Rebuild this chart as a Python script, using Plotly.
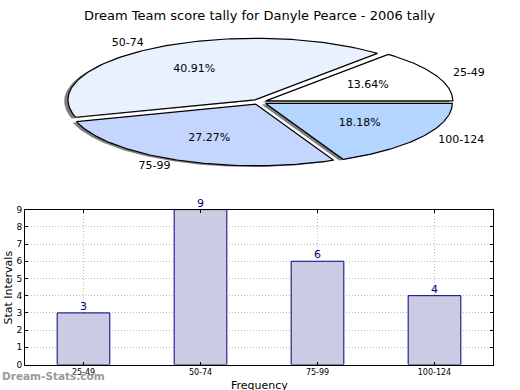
import numpy as np
import plotly.graph_objects as go

# ---- data ----
categories = ["25-49", "50-74", "75-99", "100-124"]
counts = [3, 9, 6, 4]
pie_colors = ["#ffffff", "#e9f0fe", "#c4d6fd", "#b3d5ff"]
title_text = "Dream Team score tally for Danyle Pearce - 2006 tally"
y_ticks = list(range(0, 10))

# ---- layout constants (px) ----
W, H = 520, 390
cx, cy, rx, ry = 259.0, 99.5, 187.0, 63.2   # pie centre / radii
pie_bottom = 195.0
explode = 0.04
bar_l, bar_r, bar_t, bar_b = 25, 493, 210, 369
FONT = "DejaVu Sans"

fig = go.Figure()

total = float(sum(counts))
fracs = [c / total for c in counts]

# compute wedges
wedges = []
t = 0.0
for cat, f, col in zip(categories, fracs, pie_colors):
    t1, t2 = t, t + 360.0 * f
    t = t2
    mid = np.deg2rad((t1 + t2) / 2)
    dx, dy = explode * np.cos(mid), explode * np.sin(mid)
    ang = np.deg2rad(np.linspace(t1, t2, 120))
    xs = np.concatenate([[0.0], np.cos(ang), [0.0]]) + dx
    ys = np.concatenate([[0.0], np.sin(ang), [0.0]]) + dy
    wedges.append((cat, f, col, mid, dx, dy, xs, ys))

# shadows
for cat, f, col, mid, dx, dy, xs, ys in wedges:
    fig.add_trace(go.Scatter(x=xs - 0.02, y=ys - 0.02, mode="lines", fill="toself",
                             fillcolor="rgba(40,40,40,0.6)", line=dict(width=0),
                             xaxis="x2", yaxis="y2", hoverinfo="skip", showlegend=False))
# wedges
for cat, f, col, mid, dx, dy, xs, ys in wedges:
    fig.add_trace(go.Scatter(x=xs, y=ys, mode="lines", fill="toself",
                             fillcolor=col, line=dict(color="black", width=1.2),
                             xaxis="x2", yaxis="y2", hoverinfo="skip", showlegend=False))
# labels
for cat, f, col, mid, dx, dy, xs, ys in wedges:
    lx, ly = (explode + 1.1) * np.cos(mid), (explode + 1.1) * np.sin(mid)
    pos = "middle right" if np.cos(mid) >= 0 else "middle left"
    fig.add_trace(go.Scatter(x=[lx], y=[ly], mode="text", text=[cat], textposition=pos,
                             textfont=dict(family=FONT, size=11, color="black"),
                             xaxis="x2", yaxis="y2", hoverinfo="skip", showlegend=False, cliponaxis=False))
    px_, py_ = (explode + 0.6) * np.cos(mid), (explode + 0.6) * np.sin(mid)
    fig.add_trace(go.Scatter(x=[px_], y=[py_], mode="text", text=["%.2f%%" % (f * 100)],
                             textposition="middle center",
                             textfont=dict(family=FONT, size=11, color="black"),
                             xaxis="x2", yaxis="y2", hoverinfo="skip", showlegend=False, cliponaxis=False))

# bars
fig.add_trace(go.Bar(x=categories, y=counts, width=0.45,
                     marker=dict(color="#cbcce4", line=dict(color="#000080", width=1)),
                     hoverinfo="skip", showlegend=False, xaxis="x", yaxis="y"))
fig.add_trace(go.Scatter(x=categories, y=counts, mode="text", text=[str(c) for c in counts],
                         textposition="top center",
                         textfont=dict(family=FONT, size=11, color="#000080"),
                         cliponaxis=False, hoverinfo="skip", showlegend=False, xaxis="x", yaxis="y"))

grid = dict(showgrid=True, gridcolor="#bdbdbd", griddash="1px,2px", gridwidth=1)
fig.update_layout(
    width=W, height=H, margin=dict(l=0, r=0, t=0, b=0),
    paper_bgcolor="white", plot_bgcolor="rgba(0,0,0,0)",
    xaxis=dict(domain=[bar_l / W, bar_r / W], anchor="y", type="category",
               range=[-0.5, 3.5], showline=True, linecolor="black", linewidth=1, mirror="ticks",
               ticks="inside", ticklen=3, tickcolor="black",
               tickfont=dict(family=FONT, size=8, color="black"), zeroline=False, **grid),
    yaxis=dict(domain=[(H - bar_b) / H, (H - bar_t) / H], anchor="x",
               range=[0, 9], tickvals=y_ticks, showline=True, linecolor="black", linewidth=1,
               mirror="ticks", ticks="inside", ticklen=3, tickcolor="black",
               tickfont=dict(family=FONT, size=9, color="black"), zeroline=False, **grid),
    xaxis2=dict(domain=[0, 1], anchor="y2", range=[-cx / rx, (W - cx) / rx],
                visible=False, fixedrange=True),
    yaxis2=dict(domain=[(H - pie_bottom) / H, 1], anchor="x2",
                range=[-(pie_bottom - cy) / ry, cy / ry], visible=False, fixedrange=True),
    annotations=[
        dict(text=title_text, xref="paper", yref="paper", x=259 / W, y=1 - 11 / H,
             xanchor="center", yanchor="middle", showarrow=False,
             font=dict(family=FONT, size=13, color="black")),
        dict(text="Stat Intervals", xref="paper", yref="paper", x=9 / W, y=1 - 290 / H,
             xanchor="center", yanchor="middle", textangle=-90, showarrow=False,
             font=dict(family=FONT, size=11, color="black")),
        dict(text="Frequency", xref="paper", yref="paper", x=259 / W, y=1 - 383 / H,
             xanchor="center", yanchor="top", showarrow=False, borderpad=0,
             font=dict(family=FONT, size=11, color="black")),
        dict(text="<b>Dream-Stats.com</b>", xref="paper", yref="paper", x=0, y=1 - 381 / H,
             xanchor="left", yanchor="middle", showarrow=False,
             font=dict(family=FONT, size=10.5, color="#9a9a9a")),
    ],
)

fig.write_html("out.html", config={"displayModeBar": False},
               post_script="document.body.style.margin='0';document.body.style.overflow='hidden';")
